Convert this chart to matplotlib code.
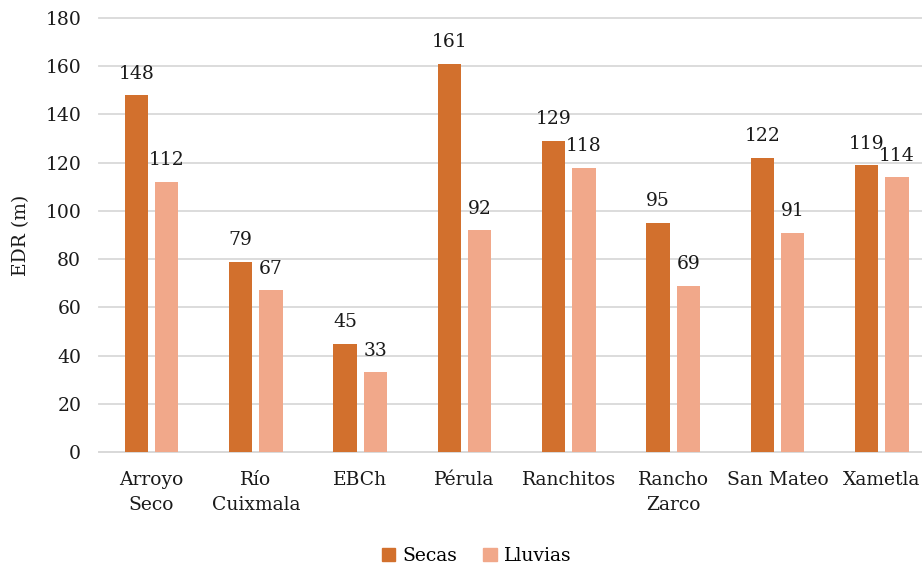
import numpy as np
import matplotlib.pyplot as plt
from matplotlib.patches import Patch

sitios = ["Arroyo\nSeco", "Río\nCuixmala", "EBCh", "Pérula", "Ranchitos",
          "Rancho\nZarco", "San Mateo", "Xametla"]
secas = [148, 79, 45, 161, 129, 95, 122, 119]
lluvias = [112, 67, 33, 92, 118, 69, 91, 114]

c_secas = "#D2702D"
c_lluvias = "#F1A88A"

plt.rcParams["font.family"] = ["DejaVu Serif"]
fs = 13.5

fig = plt.figure(figsize=(9.22, 5.70), dpi=100)
ax = fig.add_axes([0.1077, 0.2070, 0.9053, 0.7614])

x = np.arange(len(sitios))
w = 0.225
off = 0.145
b1 = ax.bar(x - off, secas, w, color=c_secas, zorder=3)
b2 = ax.bar(x + off, lluvias, w, color=c_lluvias, zorder=3)

for bars, vals in ((b1, secas), (b2, lluvias)):
    for r, v in zip(bars, vals):
        ax.annotate(f"{v}", (r.get_x() + r.get_width() / 2, v),
                    xytext=(0, 9), textcoords="offset points",
                    ha="center", va="bottom", fontsize=fs, color="#1a1a1a")

ax.set_xlim(-0.5, len(sitios) - 0.5)
ax.set_ylim(0, 180)
ax.set_yticks(range(0, 181, 20))
ax.yaxis.grid(True, color="#d9d9d9", linewidth=1.3, zorder=0)
for s in ("top", "right", "left"):
    ax.spines[s].set_visible(False)
ax.spines["bottom"].set_color("#d9d9d9")
ax.spines["bottom"].set_linewidth(1.3)
for gl in ax.get_ygridlines():
    gl.set_clip_on(False)
ax.tick_params(axis="both", length=0, labelsize=fs, labelcolor="#1a1a1a")
ax.tick_params(axis="y", pad=13)
ax.tick_params(axis="x", pad=14)
ax.set_xticks(x)
ax.set_xticklabels(sitios, linespacing=1.45)
ax.set_ylabel("EDR (m)", fontsize=fs, color="#1a1a1a", labelpad=11)

handles = [Patch(color=c_secas, label="Secas"), Patch(color=c_lluvias, label="Lluvias")]
fig.legend(handles=handles, loc="center", bbox_to_anchor=(0.517, 0.024), ncol=2,
           frameon=False, fontsize=fs, handlelength=0.7, handleheight=0.7,
           handletextpad=0.4, columnspacing=1.4)

fig.savefig("out.png", dpi=100)
